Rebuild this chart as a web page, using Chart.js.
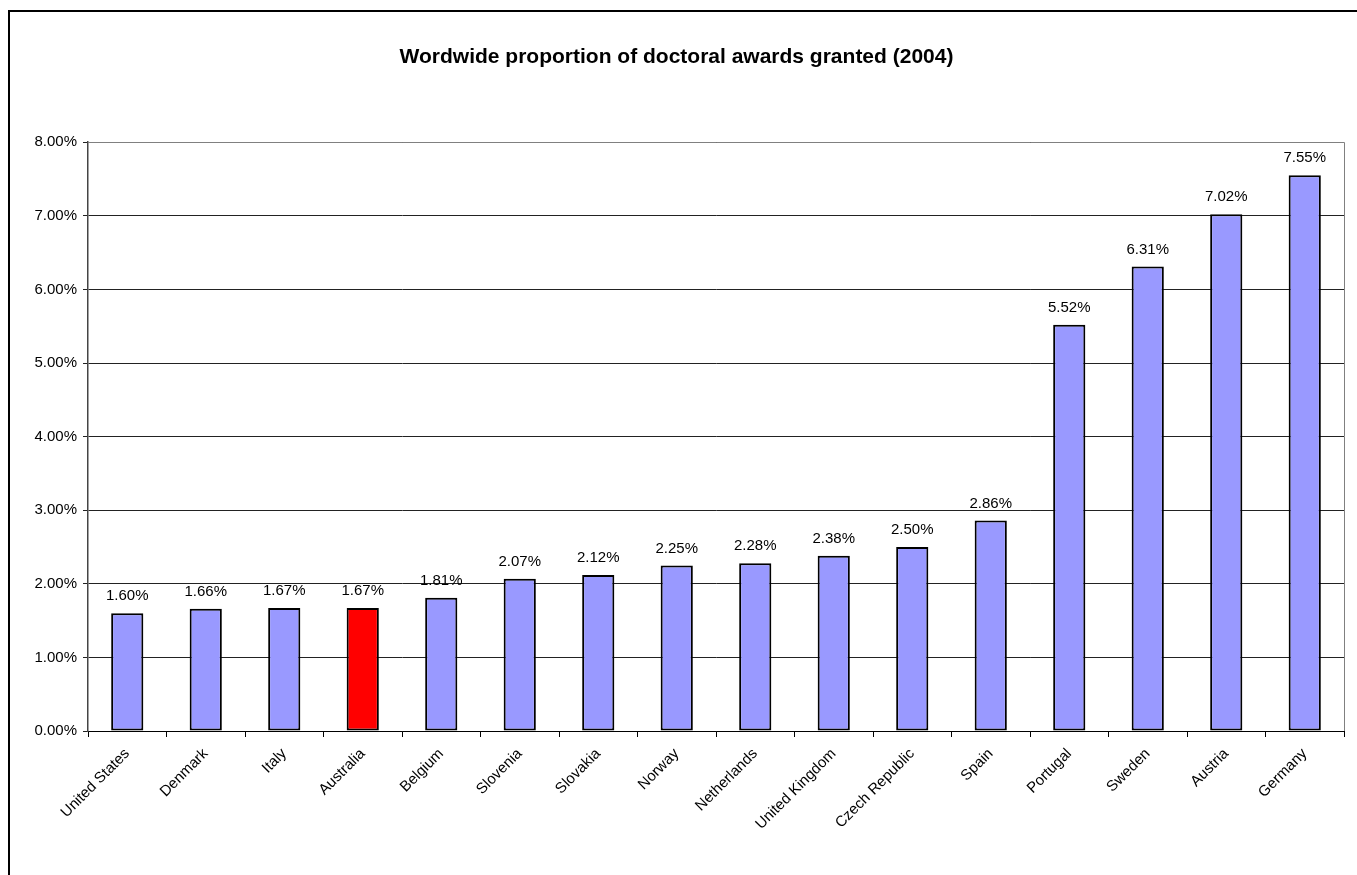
<!DOCTYPE html>
<html><head><meta charset="utf-8">
<script src="https://cdn.jsdelivr.net/npm/chart.js@4/dist/chart.umd.min.js"></script>
<style>html,body{margin:0;padding:0;background:#fff;overflow:hidden}#wrap{width:1357px;height:875px}</style>
</head><body><div id="wrap"><canvas id="c" width="1357" height="875"></canvas></div>
<script>
const categories = ["United States","Denmark","Italy","Australia","Belgium","Slovenia","Slovakia","Norway","Netherlands","United Kingdom","Czech Republic","Spain","Portugal","Sweden","Austria","Germany"];
const shares = [1.60,1.66,1.67,1.67,1.81,2.07,2.12,2.25,2.28,2.38,2.50,2.86,5.52,6.31,7.02,7.55];
const highlight = "Australia";
const titleText = "Wordwide proportion of doctoral awards granted (2004)";
const FONT = "'Liberation Sans', Arial, sans-serif";

const framePlugin = {
  id: 'frame',
  beforeDraw(chart){
    const ctx = chart.ctx; ctx.save();
    ctx.fillStyle = '#fff'; ctx.fillRect(0,0,chart.width,chart.height);
    ctx.restore();
  },
  afterDraw(chart){
    const ctx = chart.ctx, a = chart.chartArea; ctx.save();
    ctx.strokeStyle = '#000'; ctx.lineWidth = 2;
    ctx.strokeRect(9, 11, 1400, 900);
    ctx.strokeStyle = '#808080'; ctx.lineWidth = 1;
    ctx.beginPath();
    ctx.moveTo(a.left, Math.round(a.top)+0.5); ctx.lineTo(Math.round(a.right)+0.5, Math.round(a.top)+0.5);
    ctx.lineTo(Math.round(a.right)+0.5, a.bottom);
    ctx.stroke();
    ctx.restore();
  }
};
const labelPlugin = {
  id: 'vals',
  afterDatasetsDraw(chart){
    const ctx = chart.ctx; ctx.save();
    ctx.font = "15px " + FONT; ctx.fillStyle = '#000';
    ctx.textAlign = 'center'; ctx.textBaseline = 'middle';
    chart.getDatasetMeta(0).data.forEach((bar, i) => {
      ctx.fillText(shares[i].toFixed(2) + '%', bar.x, bar.y - 17);
    });
    ctx.restore();
  }
};

new Chart(document.getElementById('c'), {
  type: 'bar',
  data: {
    labels: categories,
    datasets: [{
      data: shares,
      backgroundColor: categories.map(c => c === highlight ? '#FF0000' : '#9999FF'),
      borderColor: '#000', borderWidth: 2, borderSkipped: false,
      barPercentage: 0.41, categoryPercentage: 1.0
    }]
  },
  options: {
    responsive: false, animation: false, devicePixelRatio: 1,
    layout: { padding: { left: 9, right: 13, top: 0, bottom: 0 } },
    plugins: {
      legend: { display: false }, tooltip: { enabled: false },
      title: { display: true, text: titleText, color: '#000',
        font: { family: FONT, size: 21, weight: 'bold' },
        padding: { top: 45, bottom: 72 } }
    },
    scales: {
      x: {
        offset: true,
        grid: { display: true, drawOnChartArea: false, offset: true, color: '#000', tickLength: 6, tickWidth: 1 },
        border: { display: true, color: '#000', width: 1 },
        ticks: { color: '#000', font: { family: FONT, size: 15 }, minRotation: 45, maxRotation: 45, autoSkip: false, padding: 8 },
        afterFit(s){ s.height = 144; }
      },
      y: {
        min: 0, max: 8,
        grid: { color: '#222', tickLength: 5, lineWidth: 1 },
        border: { display: true, color: '#444', width: 1.5 },
        ticks: { stepSize: 1, color: '#000', font: { family: FONT, size: 15 }, padding: 6,
          callback: v => Number(v).toFixed(2) + '%' },
        afterFit(s){ s.width = 79; }
      }
    }
  },
  plugins: [framePlugin, labelPlugin]
});
</script></body></html>
